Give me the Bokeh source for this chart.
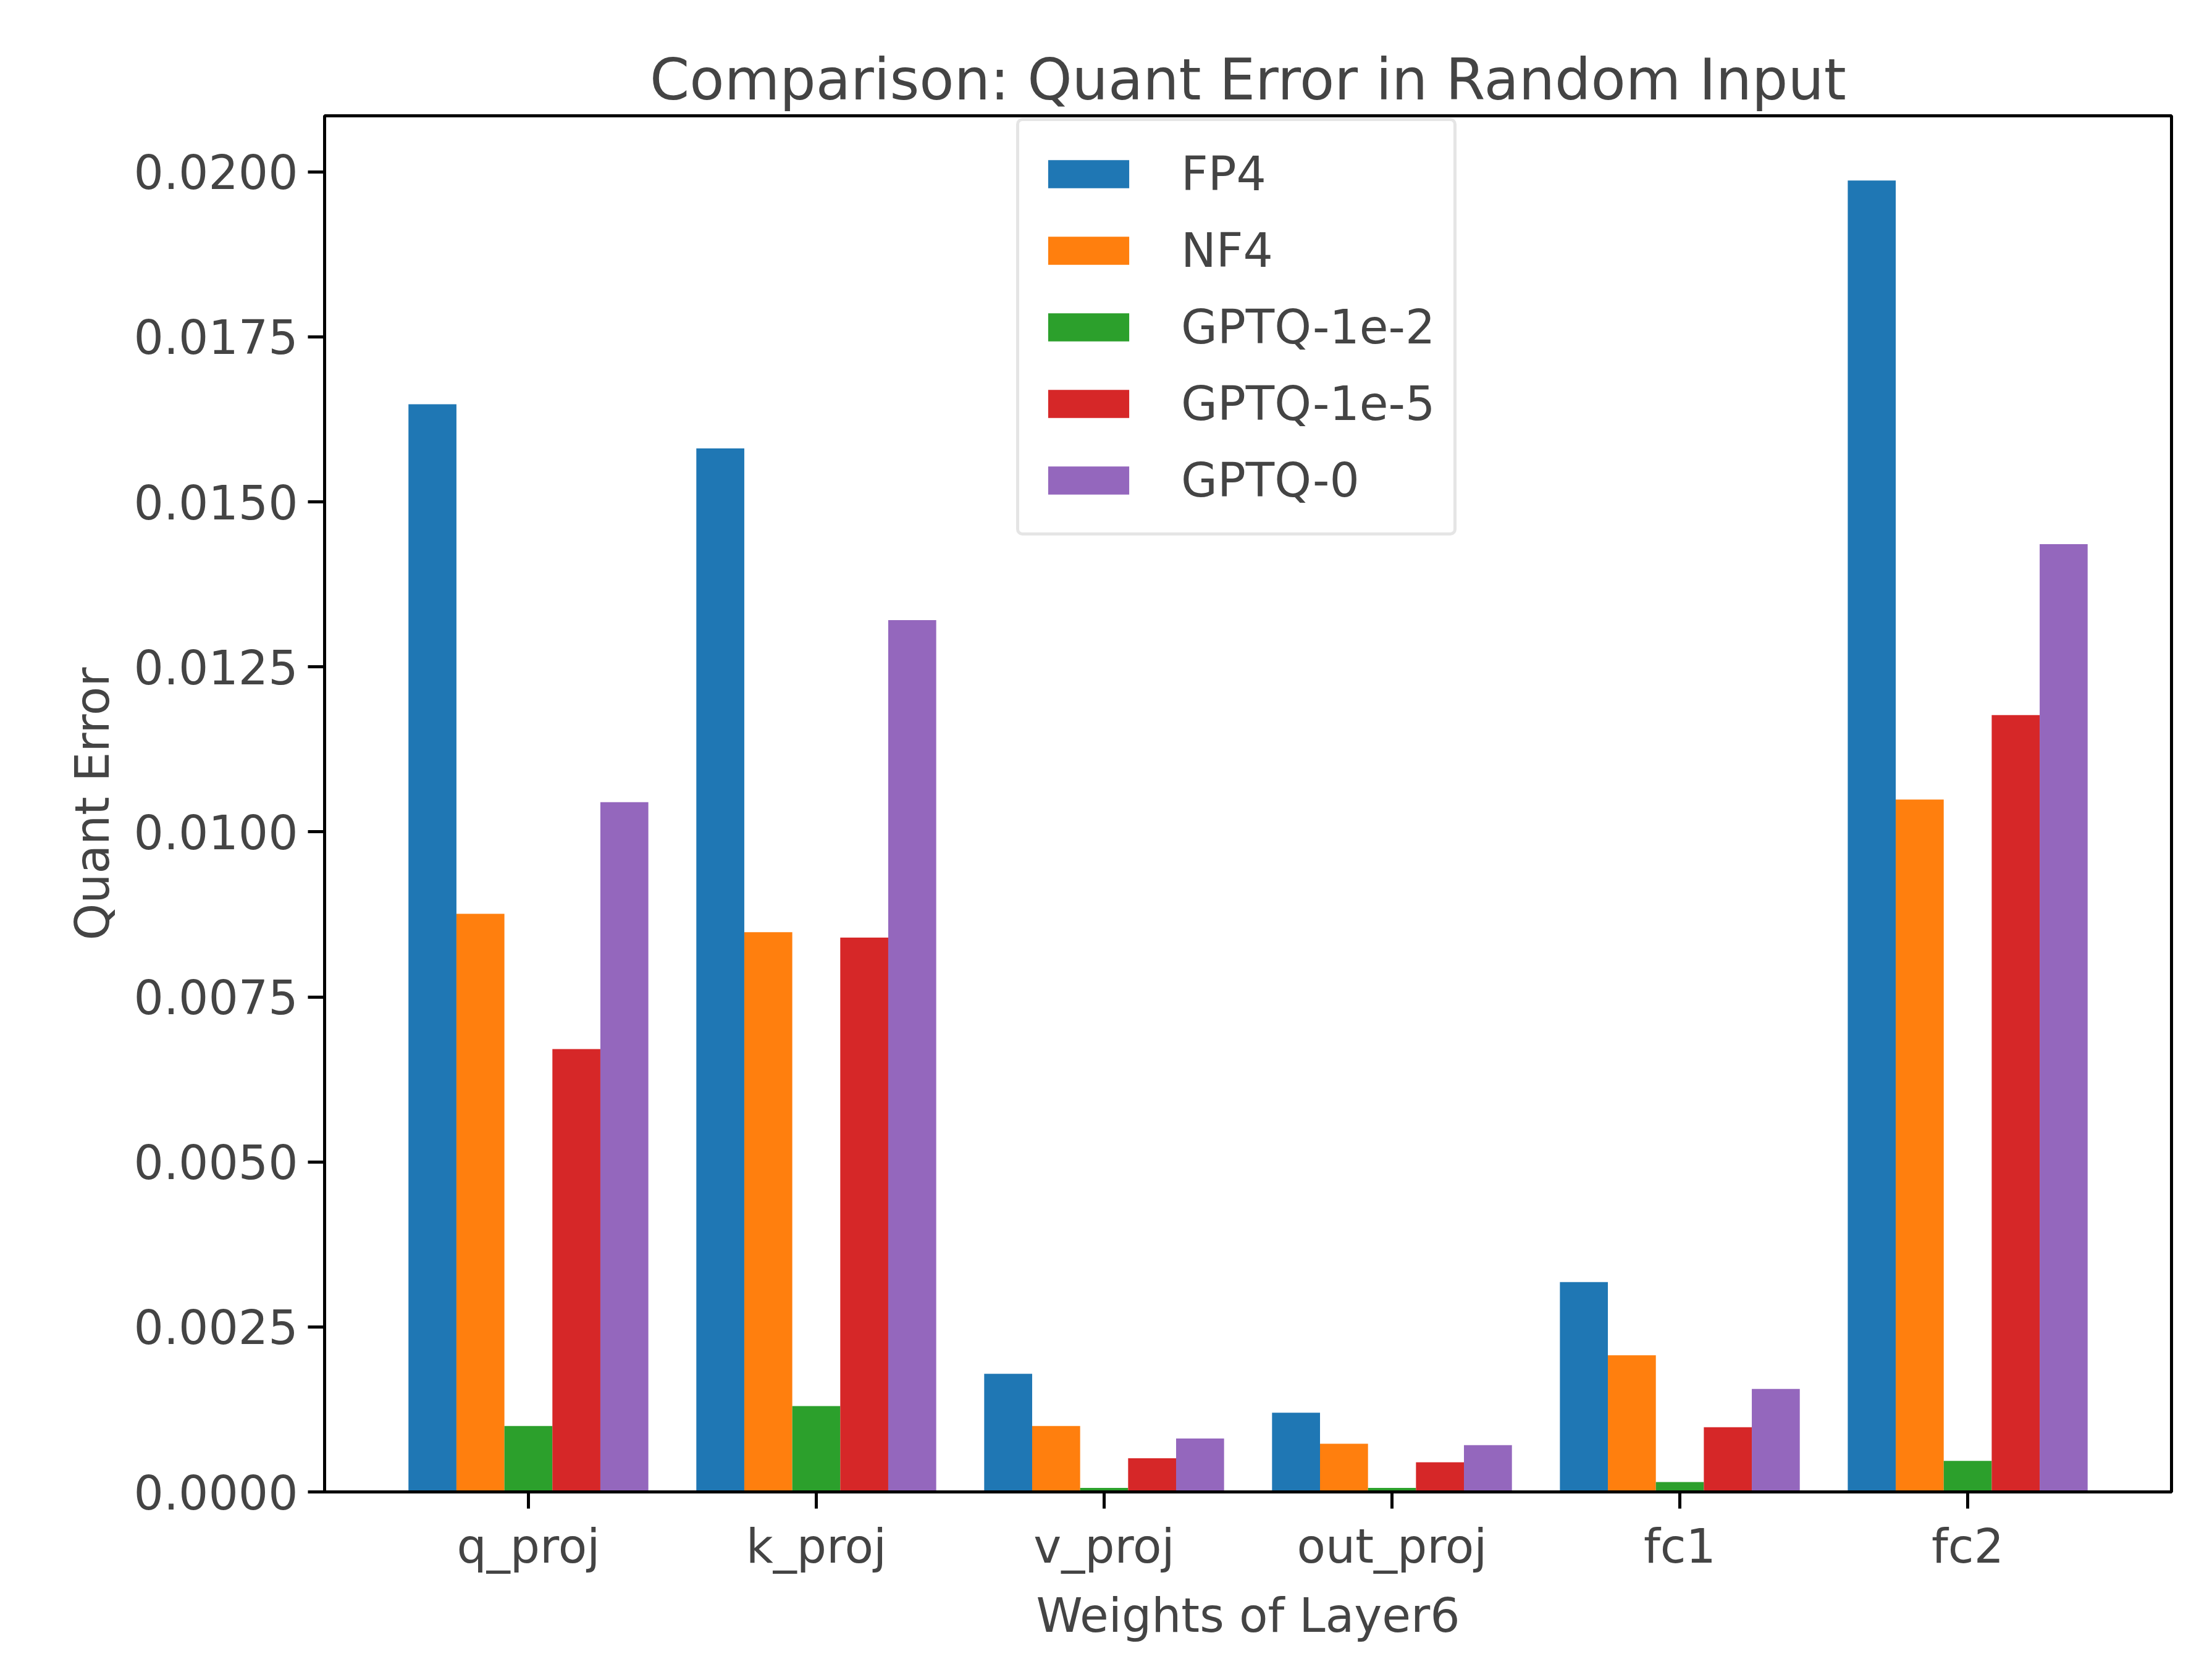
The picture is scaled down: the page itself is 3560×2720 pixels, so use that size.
from bokeh.plotting import figure
from bokeh.models import Legend, LegendItem, FixedTicker
from bokeh.embed import file_html
from bokeh.resources import INLINE

layers = ["q_proj", "k_proj", "v_proj", "out_proj", "fc1", "fc2"]
methods = ["FP4", "NF4", "GPTQ-1e-2", "GPTQ-1e-5", "GPTQ-0"]
colors = ["#1f77b4", "#ff7f0e", "#2ca02c", "#d62728", "#9467bd"]

fp4 = [0.01648, 0.01581, 0.00179, 0.00120, 0.00318, 0.01987]
nf4 = [0.00876, 0.00848, 0.00100, 0.00073, 0.00207, 0.01049]
gptq_1e2 = [0.00100, 0.00130, 0.00006, 0.00006, 0.00015, 0.00047]
gptq_1e5 = [0.00671, 0.00840, 0.00051, 0.00045, 0.00098, 0.01177]
gptq_0 = [0.01045, 0.01321, 0.00081, 0.00071, 0.00156, 0.01436]
series = [fp4, nf4, gptq_1e2, gptq_1e5, gptq_0]

FONT = "DejaVu Sans"
bw = 1 / 6

p = figure(frame_width=2990, frame_height=2228, min_border_left=525, min_border_right=29,
           min_border_top=187, min_border_bottom=289,
           x_range=(-0.708, 5.708), y_range=(0, 0.02085),
           output_backend="svg", toolbar_location=None,
           title="Comparison: Quant Error in Random Input",
           x_axis_label="Weights of Layer6", y_axis_label="Quant Error")

items = []
xs = list(range(len(layers)))
for i, (name, vals, c) in enumerate(zip(methods, series, colors)):
    off = (i - 2) * bw
    r = p.vbar(x=[x + off for x in xs], top=vals, width=bw, fill_color=c, line_color=None)
    items.append(LegendItem(label=name, renderers=[r]))

p.title.align = "center"
p.title.text_font = FONT
p.title.text_font_size = "92px"
p.title.text_font_style = "normal"
p.title.offset = 0

p.xgrid.visible = False
p.ygrid.visible = False
p.outline_line_color = "black"
p.outline_line_width = 5

p.xaxis.ticker = FixedTicker(ticks=xs)
p.xaxis.major_label_overrides = {i: l for i, l in enumerate(layers)}
p.yaxis.ticker = FixedTicker(ticks=[i * 0.0025 for i in range(9)])
p.yaxis.formatter.use_scientific = False
p.yaxis.major_label_overrides = {i * 0.0025: "%.4f" % (i * 0.0025) for i in range(9)}

for ax in (p.xaxis[0], p.yaxis[0]):
    ax.axis_line_width = 5
    ax.major_tick_line_width = 5
    ax.major_tick_out = 27
    ax.major_tick_in = 0
    ax.minor_tick_line_color = None
    ax.major_label_text_font = FONT
    ax.major_label_text_font_size = "76px"
    ax.axis_label_text_font = FONT
    ax.axis_label_text_font_size = "76px"
    ax.axis_label_text_font_style = "normal"
    ax.major_label_standoff = 16
    ax.axis_label_standoff = 20

legend = Legend(items=items, location=(1120, 1548))
legend.label_text_font = FONT
legend.label_text_font_size = "76px"
legend.glyph_width = 164
legend.glyph_height = 57
legend.label_height = 110
legend.spacing = 14
legend.padding = 30
legend.margin = 0
legend.label_standoff = 68
legend.border_line_color = "#cccccc"
legend.border_line_width = 5
legend.border_radius = 10
legend.background_fill_alpha = 0.8
p.add_layout(legend, "center")

open("out.html", "w").write(file_html(p, INLINE))
